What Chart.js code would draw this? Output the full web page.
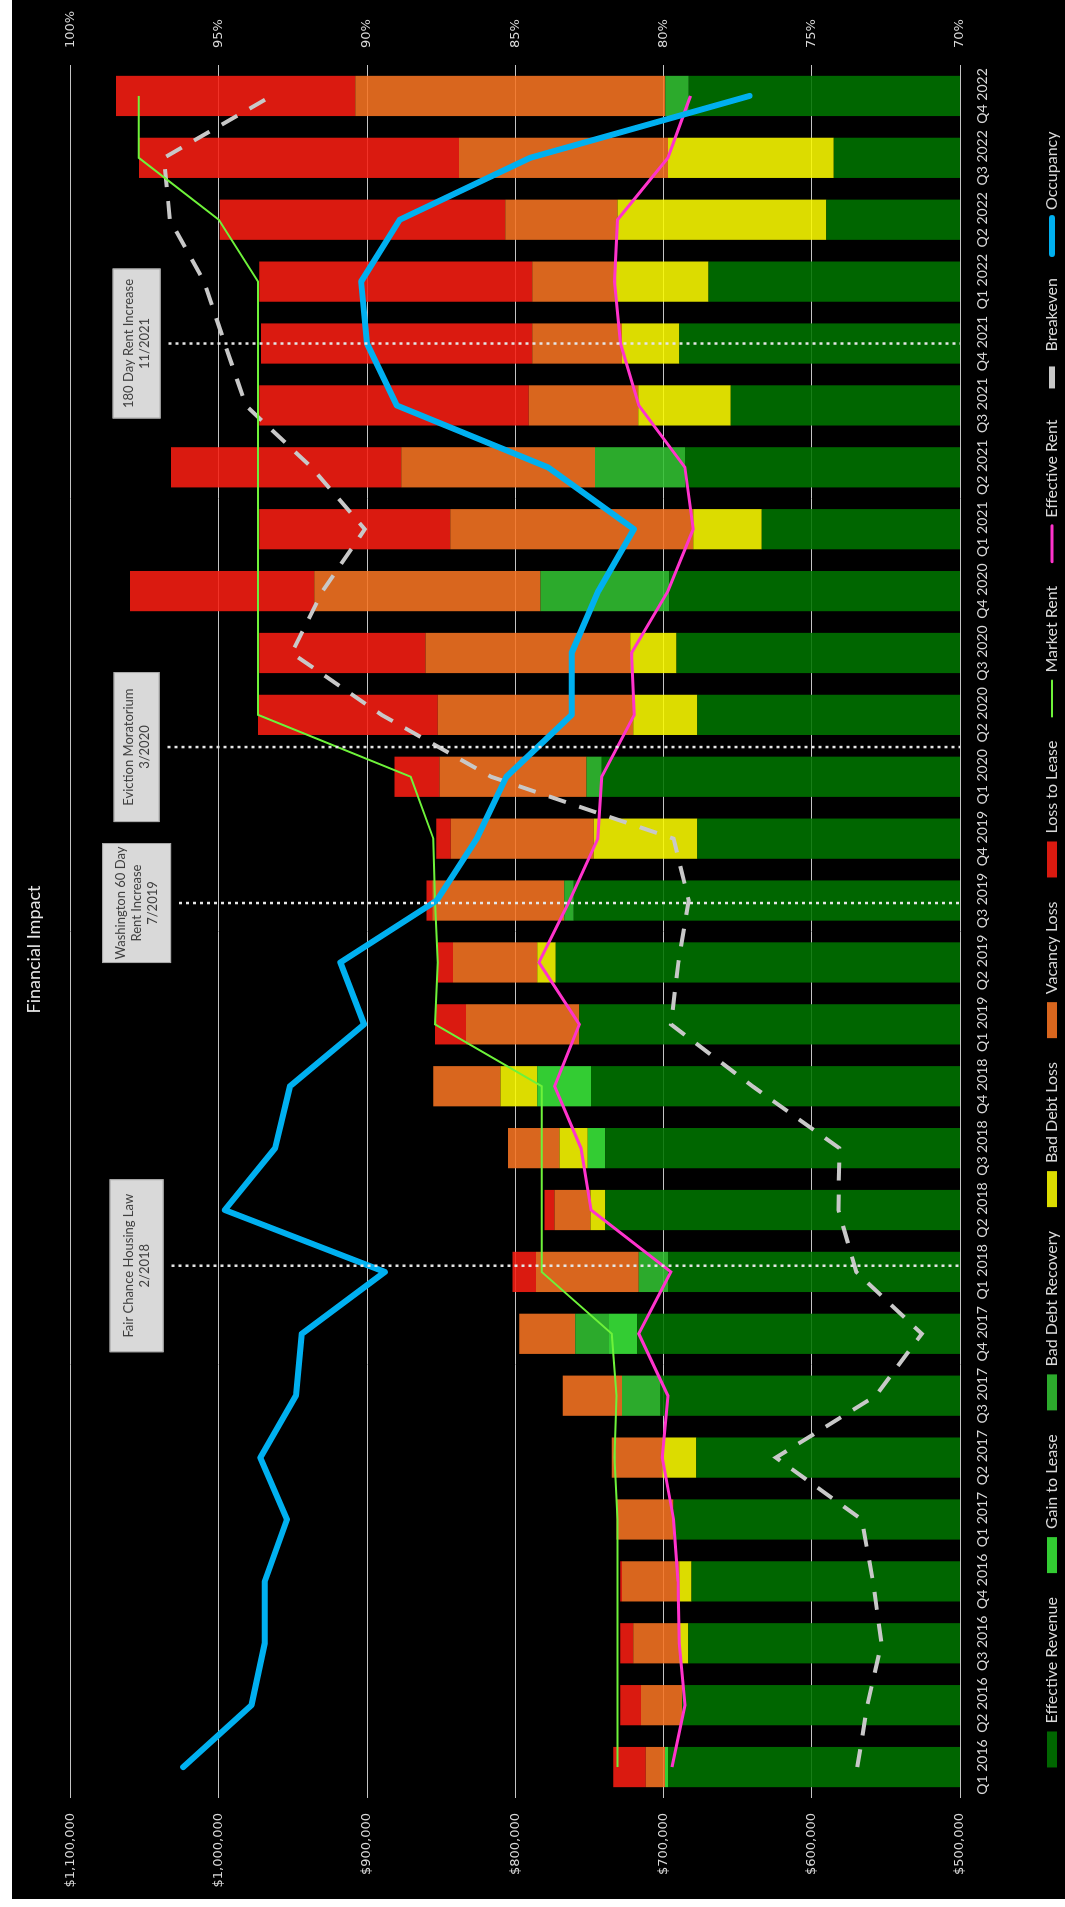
<!DOCTYPE html>
<html>
<head>
<meta charset="utf-8">
<script src="https://cdn.jsdelivr.net/npm/chart.js@4.4.0/dist/chart.umd.min.js"></script>
<style>
  html, body { margin: 0; padding: 0; background: #fff; }
  #wrap { position: absolute; left: 12px; top: 0; width: 1053px; height: 1899px; overflow: hidden; background: #000; }
  #chart { position: absolute; left: 0; top: 0; transform-origin: 0 0; transform: translateY(1899px) rotate(-90deg); }
</style>
</head>
<body>
<div id="wrap"><canvas id="chart" width="1899" height="1053"></canvas></div>
<script>
// quarters along the category axis
var quarters = ["Q1 2016", "Q2 2016", "Q3 2016", "Q4 2016", "Q1 2017", "Q2 2017", "Q3 2017", "Q4 2017",
  "Q1 2018", "Q2 2018", "Q3 2018", "Q4 2018", "Q1 2019", "Q2 2019", "Q3 2019", "Q4 2019",
  "Q1 2020", "Q2 2020", "Q3 2020", "Q4 2020", "Q1 2021", "Q2 2021", "Q3 2021", "Q4 2021",
  "Q1 2022", "Q2 2022", "Q3 2022", "Q4 2022"];

// stacked bar pieces ($)
var effectiveRevenue = [697000, 687500, 683300, 681100, 693200, 678000, 702000, 717800, 697000, 739400, 739400, 748900, 756800, 772700,
  760600, 677300, 741700, 677300, 691300, 696200, 633700, 685600, 654600, 689400, 669700, 590200, 585200, 683000];
var gainToLease = [2000, 0, 0, 0, 0, 0, 0, 19000, 0, 0, 11700, 36300, 0, 0,
  0, 0, 0, 0, 0, 0, 0, 0, 0, 0, 0, 0, 0, 0];
var badDebtRecovery = [0, 0, 0, 0, 0, 0, 26000, 22700, 19700, 0, 0, 0, 0, 0,
  6400, 0, 10200, 0, 0, 86800, 0, 60600, 0, 0, 0, 0, 0, 15900];
var badDebtLoss = [0, 0, 6100, 8300, 0, 22800, 0, 0, 0, 9900, 19000, 24700, 0, 12500,
  0, 69700, 0, 43200, 31100, 0, 46200, 0, 62400, 38600, 63300, 140900, 111800, 0];
var vacancyLoss = [13000, 27700, 31100, 38600, 38600, 34100, 40000, 37900, 69300, 24200, 34800, 45400, 76500, 56900,
  89100, 96600, 99200, 131800, 138200, 152600, 164000, 130700, 73900, 60600, 55600, 75700, 140900, 209100];
var lossToLease = [22000, 14000, 8700, 1200, 0, 0, 0, 0, 15900, 6800, 0, 0, 20900, 10200,
  3800, 9800, 30400, 121200, 112100, 124300, 128800, 155300, 181800, 183000, 184100, 192500, 215900, 161300];

// lines ($)
var marketRent = [731000, 731000, 731000, 731000, 731000, 733000, 731800, 734900, 782200, 782200, 782200, 782200, 854200, 852300,
  854200, 855300, 870500, 973500, 973500, 973500, 973500, 973500, 973500, 973500, 973500, 1000000, 1054000, 1054000];
var effectiveRent = [694300, 685600, 689400, 690200, 693200, 700800, 697000, 716700, 695000, 748900, 755700, 773500, 756800, 784000,
  763300, 744300, 741700, 719700, 721600, 697000, 680000, 685600, 716700, 729000, 733000, 731000, 697000, 681800];
var breakeven = [569300, 562500, 553000, 558700, 566300, 624200, 556800, 525800, 570000, 582000, 581400, 640000, 695000, 690000,
  683000, 693200, 816300, 890200, 950800, 930000, 901500, 937500, 981800, 996000, 1010000, 1033000, 1037000, 964400];

// occupancy (%) on the right axis
var occupancy = [96.2, 93.9, 93.45, 93.45, 92.7, 93.6, 92.4, 92.2, 89.4, 94.8, 93.1, 92.6, 90.1, 90.9,
  87.65, 86.3, 85.3, 83.1, 83.1, 82.2, 81.0, 83.9, 89.0, 90.0, 90.2, 88.9, 84.5, 77.1];

// event call-outs (position in quarter index units)
var eventLabels = [["Fair Chance Housing Law", "2/2018"], ["Washington 60 Day", "Rent Increase", "7/2019"],
  ["Eviction Moratorium", "3/2020"], ["180 Day Rent Increase", "11/2021"]];
var eventPositions = [8.1, 13.96, 16.48, 23];

// call-out box sizes (style only)
var eventBoxWidths = [173, 120, 150, 150];
var eventBoxHeights = [54, 69, 46, 48];

var eventLines = {
  id: "eventLines",
  afterDatasetsDraw: function(chart) {
    var ctx = chart.ctx;
    var area = chart.chartArea;
    var xs = chart.scales.x;
    ctx.save();
    eventPositions.forEach(function(pos, i) {
      var x = xs.getPixelForValue(pos);
      var lines = eventLabels[i];
      var w = eventBoxWidths[i];
      var h = eventBoxHeights[i];
      var cy = area.top + 66;

      // dotted marker line
      ctx.setLineDash([3, 4]);
      ctx.strokeStyle = "#e6e6e6";
      ctx.lineWidth = 2.5;
      ctx.beginPath();
      ctx.moveTo(x, cy + h / 2 + 8);
      ctx.lineTo(x, area.bottom);
      ctx.stroke();

      // label box
      ctx.setLineDash([]);
      ctx.fillStyle = "#d9d9d9";
      ctx.fillRect(x - w / 2, cy - h / 2, w, h);
      ctx.strokeStyle = "#a6a6a6";
      ctx.lineWidth = 1;
      ctx.strokeRect(x - w / 2 + 0.5, cy - h / 2 + 0.5, w - 1, h - 1);

      ctx.fillStyle = "#404040";
      ctx.font = "13px Lato";
      ctx.textAlign = "center";
      ctx.textBaseline = "middle";
      lines.forEach(function(t, j) {
        ctx.fillText(t, x, cy + (j - (lines.length - 1) / 2) * 16);
      });
    });
    ctx.restore();
  }
};

Chart.defaults.font.family = "Lato, 'DejaVu Sans', sans-serif";
Chart.defaults.color = "#d9d9d9";

function barSet(label, data, color) {
  return {
    label: label,
    data: data,
    backgroundColor: color,
    borderWidth: 0,
    yAxisID: "y",
    stack: "revenue",
    order: 10,
    barPercentage: 0.65,
    categoryPercentage: 1
  };
}

var ctx = document.getElementById("chart").getContext("2d");

var chart = new Chart(ctx, {
  type: "bar",
  data: {
    labels: quarters,
    datasets: [
      barSet("Effective Revenue", effectiveRevenue, "rgba(0,116,0,0.88)"),
      barSet("Gain to Lease", gainToLease, "rgba(58,232,58,0.88)"),
      barSet("Bad Debt Recovery", badDebtRecovery, "rgba(50,193,50,0.88)"),
      barSet("Bad Debt Loss", badDebtLoss, "rgba(251,251,0,0.88)"),
      barSet("Vacancy Loss", vacancyLoss, "rgba(247,116,34,0.88)"),
      barSet("Loss to Lease", lossToLease, "rgba(248,30,18,0.88)"),
      {
        type: "line",
        label: "Market Rent",
        data: marketRent,
        borderColor: "#6ef23a",
        borderWidth: 2,
        pointRadius: 0,
        yAxisID: "y",
        stack: "mr",
        order: 3
      },
      {
        type: "line",
        label: "Effective Rent",
        data: effectiveRent,
        borderColor: "#ff33cc",
        borderWidth: 3,
        pointRadius: 0,
        yAxisID: "y",
        stack: "er",
        order: 2
      },
      {
        type: "line",
        label: "Breakeven",
        data: breakeven,
        borderColor: "#c8c8c8",
        borderWidth: 4,
        borderDash: [18, 14],
        pointRadius: 0,
        yAxisID: "y",
        stack: "be",
        order: 4
      },
      {
        type: "line",
        label: "Occupancy",
        data: occupancy,
        borderColor: "#00b0f0",
        borderWidth: 6,
        borderJoinStyle: "round",
        borderCapStyle: "round",
        pointRadius: 0,
        yAxisID: "y1",
        order: 1
      }
    ]
  },
  options: {
    responsive: false,
    animation: false,
    devicePixelRatio: 1,
    layout: { padding: { bottom: -5 } },
    plugins: {
      title: {
        display: true,
        text: "Financial Impact",
        color: "#e6e6e6",
        font: { size: 18, weight: "normal" },
        padding: { top: 11, bottom: 26 }
      },
      legend: {
        position: "bottom",
        labels: {
          usePointStyle: true,
          pointStyleWidth: 36,
          boxHeight: 10,
          padding: 24,
          color: "#d9d9d9",
          font: { size: 16 },
          generateLabels: function(chart) {
            return chart.data.datasets.map(function(ds, i) {
              var isLine = ds.type === "line";
              var isDash = ds.label === "Breakeven";
              return {
                text: ds.label,
                datasetIndex: i,
                fillStyle: isLine ? "rgba(0,0,0,0)" : ds.backgroundColor,
                strokeStyle: isLine ? ds.borderColor : ds.backgroundColor,
                lineWidth: isLine ? (isDash ? 6 : ds.borderWidth) : 0,
                lineDash: isDash ? [22, 42] : [],
                lineDashOffset: isDash ? 57 : 0,
                lineCap: isLine && !isDash ? "round" : "butt",
                pointStyle: isLine ? "line" : "rect",
                fontColor: "#d9d9d9",
                hidden: false
              };
            });
          }
        }
      },
      tooltip: { enabled: false }
    },
    scales: {
      x: {
        stacked: true,
        grid: { display: false, drawTicks: false },
        border: { display: false },
        ticks: {
          autoSkip: false,
          maxRotation: 0,
          minRotation: 0,
          padding: 14,
          color: "#d9d9d9",
          font: { size: 14 }
        },
        afterFit: function(scale) { scale.height = 60; }
      },
      y: {
        position: "left",
        stacked: true,
        min: 500000,
        max: 1100000,
        grid: { color: "#c4c4c4", lineWidth: 1, drawTicks: false },
        border: { display: false },
        ticks: {
          stepSize: 100000,
          padding: 15,
          color: "#d9d9d9",
          font: { family: "'DejaVu Sans'", size: 13 },
          callback: function(v) { return "$" + v.toLocaleString("en-US"); }
        },
        afterFit: function(scale) { scale.width = 101; }
      },
      y1: {
        position: "right",
        min: 70,
        max: 100,
        grid: { display: false, drawTicks: false },
        border: { display: false },
        ticks: {
          stepSize: 5,
          padding: 17,
          color: "#d9d9d9",
          font: { family: "'DejaVu Sans'", size: 13 },
          callback: function(v) { return v + "%"; }
        },
        afterFit: function(scale) { scale.width = 65; }
      }
    }
  },
  plugins: [eventLines]
});
</script>
</body>
</html>
